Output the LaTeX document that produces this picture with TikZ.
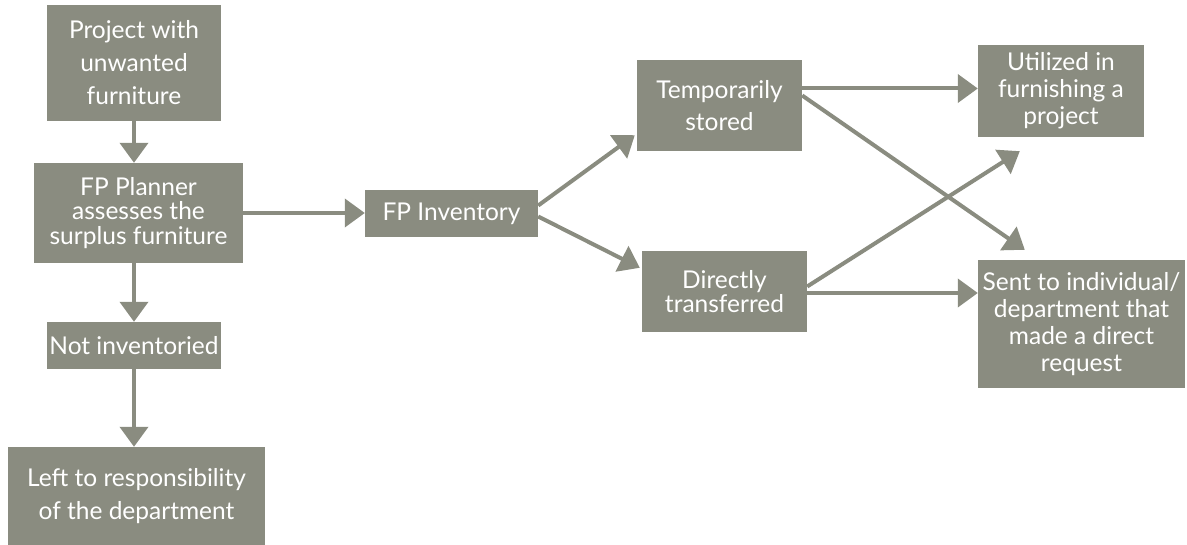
\documentclass[tikz,border=0pt]{standalone}
\usepackage{fontspec}
\setmainfont{Lato}
\usetikzlibrary{arrows.meta,calc}
\definecolor{boxgrey}{HTML}{8A8C80}
\begin{document}
\begin{tikzpicture}[x=1pt,y=-1pt,
  box/.style={fill=boxgrey, draw=none, text=white, align=center, inner sep=0pt,
    font=\fontsize{24.5}{#1}\selectfont},
  box/.default=26,
  flow/.style={draw=boxgrey, line width=4pt, -{Triangle[width=28pt,length=20pt]}}
]
\useasboundingbox (0,0) rectangle (1187,545);

% left column
\node[box=33, minimum width=174pt, minimum height=116pt] (p1) at (134,63)
  {Project with\\unwanted\\furniture};
\node[box=24.5, minimum width=209pt, minimum height=100pt] (p2) at (138.5,213)
  {FP Planner\\assesses the\\surplus furniture};
\node[box, minimum width=174pt, minimum height=47pt] (p3) at (134,345.5)
  {Not inventoried};
\node[box=33, minimum width=257pt, minimum height=98pt] (p4) at (136.5,496)
  {Left to responsibility\\of the department};

% inventory and its branches
\node[box, minimum width=173pt, minimum height=47pt] (inv) at (451.5,213.5)
  {FP Inventory};
\node[box=32, minimum width=165pt, minimum height=91pt] (temp) at (719.5,105.5)
  {Temporarily\\stored};
\node[box=24.5, minimum width=165pt, minimum height=81pt] (dir) at (724.5,291.5)
  {Directly\\transferred};

% outcomes
\node[box=27, minimum width=166pt, minimum height=92pt] (util) at (1061,91)
  {Utilized in\\furnishing a\\project};
\node[box=27, minimum width=207pt, minimum height=128pt] (sent) at (1081.5,324)
  {Sent to individual/\\department that\\made a direct\\request};

% connectors
\draw[flow] (p1.south) -- (p1.south |- p2.north);
\draw[flow] (p2.south -| p1.south) -- (p1.south |- p3.north);
\draw[flow] (p3.south) -- (p3.south |- p4.north);
\draw[flow] (p2.east) -- (p2.east -| inv.west);

\draw[flow] ($(inv.east)+(0,-8)$) -- ($(temp.south west)+(-2,-16)$);
\draw[flow] ($(inv.east)+(0,3)$) -- ($(dir.north west)+(-2,17)$);

\coordinate (t1) at ($(temp.east)+(0,-17)$);
\draw[flow] (t1) -- (t1 -| util.west);
\draw[flow] ($(temp.east)+(0,-10)$) -- ($(sent.north west)+(47,-10)$);

\draw[flow] ($(dir.east)+(0,-5)$) -- ($(util.south west)+(42,14)$);
\coordinate (d1) at ($(dir.east)+(0,1.5)$);
\draw[flow] (d1) -- (d1 -| sent.west);
\end{tikzpicture}
\end{document}
